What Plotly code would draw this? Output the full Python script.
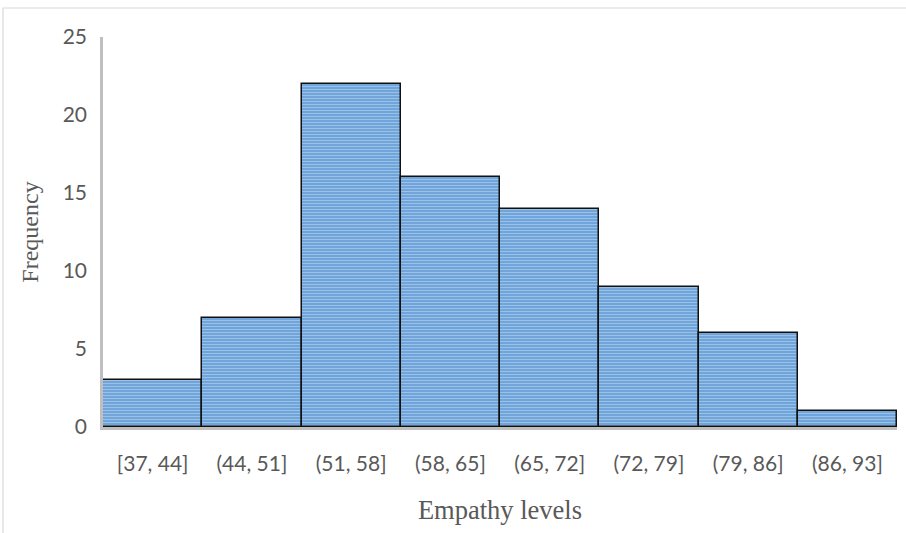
import plotly.graph_objects as go

categories = ["[37, 44]", "(44, 51]", "(51, 58]", "(58, 65]", "(65, 72]", "(72, 79]", "(79, 86]", "(86, 93]"]
frequency = [3, 7, 22, 16, 14, 9, 6, 1]
y_ticks = [0, 5, 10, 15, 20, 25]

W, H = 906, 533
L, R, T, B = 103, 9, 37, 106
pw = W - L - R
ph = H - T - B

fig = go.Figure()
fig.add_trace(go.Bar(
    x=categories, y=frequency,
    marker=dict(
        color="#6FA5DB",
        line=dict(color="#111111", width=1.5),
        pattern=dict(shape="-", fgcolor="#C9DDF2", bgcolor="#6FA5DB", size=3, solidity=0.35, fillmode="overlay"),
    ),
    hoverinfo="x+y",
))

def px(xp):
    return (xp - L) / pw

def py(yp):
    return (H - B - yp) / ph

fig.update_layout(
    width=W, height=H,
    margin=dict(l=L, r=R, t=T, b=B, pad=0),
    plot_bgcolor="white", paper_bgcolor="white",
    bargap=0, showlegend=False,
    shapes=[dict(type="rect", xref="paper", yref="paper",
                 x0=px(3), x1=px(915), y0=py(545), y1=py(8),
                 line=dict(color="#D9D9D9", width=1.2), fillcolor="rgba(0,0,0,0)", layer="below")],
    xaxis=dict(
        showgrid=False, showline=True, linecolor="#BFBFBF", linewidth=2.5,
        tickfont=dict(family="Lato, 'Open Sans', sans-serif", size=21, color="#595959"),
        ticks="", ticklabelstandoff=16,
        title=dict(text="Empathy levels", font=dict(family="Liberation Serif, 'Times New Roman', serif", size=26.5, color="#595959"), standoff=27),
        fixedrange=True,
    ),
    yaxis=dict(
        range=[0, 25], tickvals=y_ticks, showgrid=False, zeroline=False,
        showline=True, linecolor="#BFBFBF", linewidth=2.5,
        tickfont=dict(family="Lato, 'Open Sans', sans-serif", size=21, color="#595959"),
        ticks="", ticklabelstandoff=9,
        title=dict(text="Frequency", font=dict(family="Liberation Serif, 'Times New Roman', serif", size=24, color="#595959"), standoff=18),
        fixedrange=True,
    ),
)

fig.write_html("out.html")
